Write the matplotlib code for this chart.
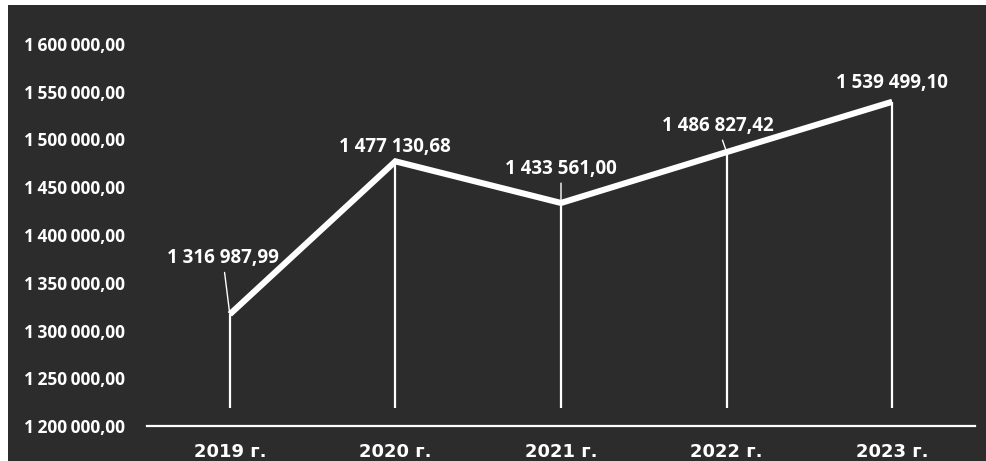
import matplotlib
matplotlib.use("Agg")
import matplotlib.pyplot as plt
from matplotlib.patches import Rectangle
from matplotlib.ticker import FixedLocator, FuncFormatter

# Annual totals
years = ["2019 г.", "2020 г.", "2021 г.", "2022 г.", "2023 г."]
values = [1316987.99, 1477130.68, 1433561.00, 1486827.42, 1539499.10]

# Value axis
y_min, y_max, y_step = 1200000, 1600000, 50000

BG = "#2c2c2c"
FG = "white"

plt.rcParams["font.family"] = ["Open Sans", "DejaVu Sans"]

fig = plt.figure(figsize=(9.87, 4.61), dpi=100)
fig.patch.set_facecolor("white")
# dark panel filling the figure except a thin white margin at top and left
fig.patches.append(Rectangle((8 / 987, 0), 1, 1 - 5 / 461, transform=fig.transFigure,
                             facecolor=BG, edgecolor="none", zorder=-10))

ax = fig.add_axes([147 / 987, 35 / 461, (975 - 147) / 987, (426 - 44) / 461])
ax.set_facecolor("none")

x = list(range(len(years)))
ax.set_xlim(-0.5, len(years) - 0.5)
ax.set_ylim(y_min, y_max)

# drop lines from each point towards the category axis
drop_bottom = y_min + 0.047 * (y_max - y_min)
ax.vlines(x, drop_bottom, values, colors=FG, linewidth=1.6, zorder=2)

# main series line
ax.plot(x, values, color=FG, linewidth=4.4, solid_joinstyle="miter",
        solid_capstyle="butt", zorder=3)


def fmt_ru(v, sep=" "):
    whole, frac = f"{v:,.2f}".split(".")
    return whole.replace(",", sep) + "," + frac


# data labels: (offset in pixels, leader line)
label_pos = [(-7, 56, True), (-1, 14, False), (0, 34, True), (-9, 26, True), (0, 19, False)]
for xi, v, (dx, dy, leader) in zip(x, values, label_pos):
    ax.annotate(fmt_ru(v), xy=(xi, v), xytext=(dx, dy), textcoords="offset pixels",
                ha="center", va="center", color=FG, fontsize=13.5, fontweight="bold",
                arrowprops=dict(arrowstyle="-", color=FG, lw=1.0, shrinkA=1, shrinkB=2)
                if leader else None, zorder=4)

# axes styling
for side in ("top", "right", "left"):
    ax.spines[side].set_visible(False)
ax.spines["bottom"].set_color(FG)
ax.spines["bottom"].set_linewidth(1.6)

ax.yaxis.set_major_locator(FixedLocator(range(y_min, y_max + 1, y_step)))
ax.yaxis.set_major_formatter(FuncFormatter(lambda v, p: fmt_ru(v, "\u2009")))
ax.tick_params(axis="y", length=0, pad=16, labelcolor=FG, labelsize=12.5)
for lab in ax.get_yticklabels():
    lab.set_fontweight("bold")

ax.set_xticks(x)
ax.set_xticklabels(years)
ax.tick_params(axis="x", length=0, pad=12, labelcolor=FG)
for lab in ax.get_xticklabels():
    lab.set_fontweight("bold")
    lab.set_fontfamily(["DejaVu Sans"])
    lab.set_fontsize(13)

fig.savefig("out.png", dpi=100, facecolor=fig.get_facecolor())
